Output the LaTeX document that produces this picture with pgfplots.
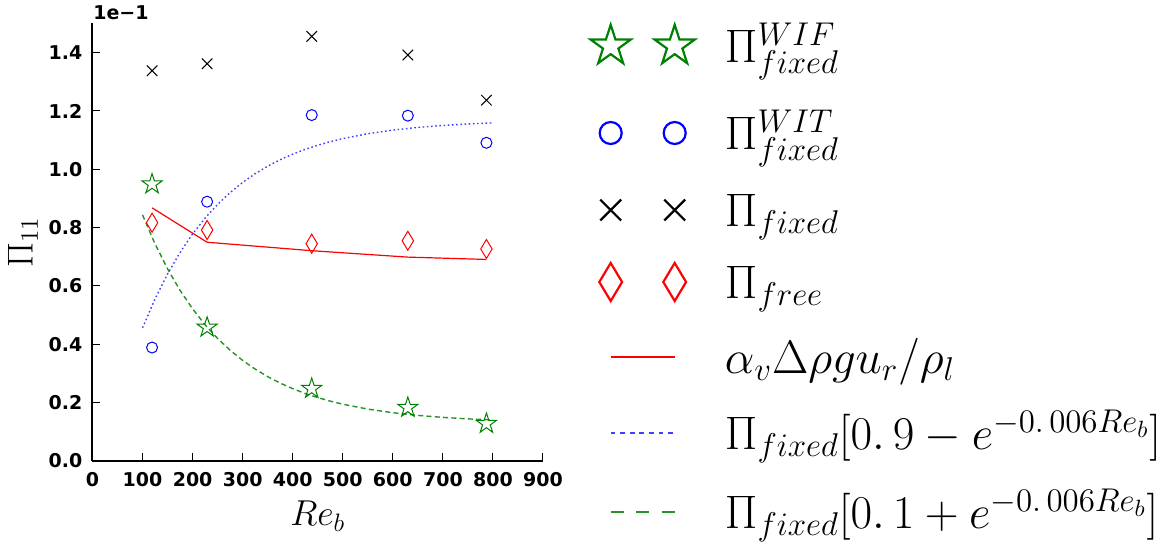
\RequirePackage{fix-cm}
\documentclass[border=0pt]{standalone}
\usepackage{fontspec}
\usepackage{pgfplots}
\pgfplotsset{compat=1.18}
\newfontfamily\dejavu{DejaVu Sans}

\definecolor{mgreen}{rgb}{0,0.5,0}
\definecolor{mblue}{rgb}{0,0,1}
\definecolor{mred}{rgb}{1,0,0}

\pgfdeclareplotmark{ostar}{%
  \pgfpathmoveto{\pgfpointpolar{90}{\pgfplotmarksize}}%
  \pgfpathlineto{\pgfpointpolar{126}{0.382\pgfplotmarksize}}%
  \pgfpathlineto{\pgfpointpolar{162}{\pgfplotmarksize}}%
  \pgfpathlineto{\pgfpointpolar{198}{0.382\pgfplotmarksize}}%
  \pgfpathlineto{\pgfpointpolar{234}{\pgfplotmarksize}}%
  \pgfpathlineto{\pgfpointpolar{270}{0.382\pgfplotmarksize}}%
  \pgfpathlineto{\pgfpointpolar{306}{\pgfplotmarksize}}%
  \pgfpathlineto{\pgfpointpolar{342}{0.382\pgfplotmarksize}}%
  \pgfpathlineto{\pgfpointpolar{18}{\pgfplotmarksize}}%
  \pgfpathlineto{\pgfpointpolar{54}{0.382\pgfplotmarksize}}%
  \pgfpathclose
  \pgfusepathqstroke
}
\pgfdeclareplotmark{tdiamond}{%
  \pgfpathmoveto{\pgfqpoint{0pt}{\pgfplotmarksize}}%
  \pgfpathlineto{\pgfqpoint{0.6\pgfplotmarksize}{0pt}}%
  \pgfpathlineto{\pgfqpoint{0pt}{-\pgfplotmarksize}}%
  \pgfpathlineto{\pgfqpoint{-0.6\pgfplotmarksize}{0pt}}%
  \pgfpathclose
  \pgfusepathqstroke
}

\pgfplotsset{
  myleg/.style={legend image code/.code={%
    \path[draw=none, fill=none] (-12pt,-2pt) rectangle (44pt,2pt);
    \draw[##1, line width=1.1pt, every mark/.append style={scale=2}, #1]
      plot coordinates {(0pt,0pt) (32pt,0pt)};}},
}

\newcommand{\tickfont}{\dejavu\bfseries\fontsize{9.5}{11}\selectfont}

\begin{document}
\begin{tikzpicture}
\useasboundingbox (0,0) rectangle (581.5pt,272pt);
\begin{axis}[
  at={(46.25pt,41.5pt)}, anchor=south west,
  scale only axis, width=225.25pt, height=218.75pt,
  xmin=0, xmax=900, ymin=0, ymax=1.5,
  clip=false,
  axis x line*=bottom, axis y line*=left,
  axis line style={line width=1pt, -},
  xtick={0,100,...,900},
  ytick={0,0.2,0.4,0.6,0.8,1.0,1.2,1.4},
  scaled y ticks=false,
  tick align=inside, major tick length=4pt,
  tick style={black, line width=0.5pt},
  /pgf/number format/assume math mode=true,
  xticklabel style={font=\tickfont, yshift=-2.3pt},
  yticklabel style={font=\tickfont, xshift=-1.6pt,
    /pgf/number format/.cd, fixed, fixed zerofill, precision=1},
  xlabel={$Re_b$},
  xlabel style={font=\fontsize{18}{20}\selectfont, at={(axis description cs:0.5,-0.1260)}, anchor=center},
  ylabel={$\Pi_{11}$},
  ylabel style={font=\fontsize{18}{20}\selectfont, at={(axis description cs:-0.1543,0.5)}, anchor=center},
  legend cell align=left,
  legend style={at={(1.0970,1.0491)}, anchor=north west, draw=none, fill=none,
    inner sep=0pt, outer sep=0pt, row sep=0pt, column sep=13.15pt,
    font=\fontsize{23.5}{27}\selectfont,
    nodes={inner sep=0pt, outer sep=0pt}},
]
% Pi^WIF_fixed (stars)
\addplot[only marks, mgreen, line width=0.5pt, mark=ostar, mark size=5.3pt, myleg={}]
  coordinates {(119,0.949) (229,0.458) (438,0.248) (630,0.183) (787,0.128)};
\addlegendentry[text height=30.03pt, text depth=13.97pt]{$\Pi^{WIF}_{fixed}$}
% Pi^WIT_fixed (circles)
\addplot[only marks, mblue, line width=0.5pt, mark=o, mark size=2.75pt, myleg={}]
  coordinates {(119,0.389) (229,0.889) (438,1.186) (630,1.184) (787,1.091)};
\addlegendentry[text height=29.53pt, text depth=13.47pt]{$\Pi^{WIT}_{fixed}$}
% Pi_fixed (crosses)
\addplot[only marks, black, line width=0.5pt, mark=x, mark size=3.7pt, myleg={}]
  coordinates {(119,1.338) (229,1.362) (438,1.456) (630,1.392) (787,1.237)};
\addlegendentry[text height=25.03pt, text depth=8.97pt]{$\Pi_{fixed}$}
% Pi_free (diamonds)
\addplot[only marks, mred, line width=0.5pt, mark=tdiamond, mark size=4.75pt, myleg={}]
  coordinates {(119,0.817) (229,0.792) (438,0.745) (630,0.755) (787,0.727)};
\addlegendentry[text height=27.03pt, text depth=10.97pt]{$\Pi_{free}$}
% model line
\addplot[mred, line width=0.6pt, myleg={line width=1pt}]
  coordinates {(119,0.868) (229,0.750) (438,0.721) (630,0.699) (787,0.691)};
\addlegendentry[text height=26.53pt, text depth=10.47pt]{$\alpha_v\Delta\rho g u_r/\rho_l$}
% blue dotted
\addplot[mblue!75, line width=0.7pt, dash pattern=on 0.8pt off 1.3pt,
  myleg={line width=1pt, dash pattern=on 2.4pt off 2.4pt}]
  coordinates {(100,0.4565) (125,0.5559) (150,0.6415) (175,0.7151) (200,0.7785)
  (225,0.8330) (250,0.8799) (275,0.9203) (300,0.9551) (325,0.9850) (350,1.0108)
  (375,1.0330) (400,1.0521) (425,1.0685) (450,1.0826) (475,1.0948) (500,1.1053)
  (550,1.1221) (600,1.1345) (650,1.1437) (700,1.1505) (750,1.1556) (800,1.1593)};
\addlegendentry[text height=27.53pt, text depth=11.47pt]{$\Pi_{fixed}[0.\,9-e^{-0.\,006Re_b}]$}
% green dashed
\addplot[mgreen!85, line width=0.7pt, dash pattern=on 2.5pt off 1.65pt,
  myleg={line width=1pt, dash pattern=on 6.5pt off 6.25pt}]
  coordinates {(100,0.8435) (125,0.7441) (150,0.6585) (175,0.5849) (200,0.5216)
  (225,0.4670) (250,0.4201) (275,0.3797) (300,0.3449) (325,0.3150) (350,0.2892)
  (375,0.2670) (400,0.2479) (425,0.2315) (450,0.2174) (475,0.2052) (500,0.1947)
  (550,0.1779) (600,0.1655) (650,0.1563) (700,0.1495) (750,0.1444) (800,0.1407)};
\addlegendentry[text height=28.03pt, text depth=11.97pt]{$\Pi_{fixed}[0.\,1+e^{-0.\,006Re_b}]$}
\node[anchor=west, font=\tickfont, inner sep=0pt] at (rel axis cs:0.001,1.024) {1e−1};
\end{axis}
\end{tikzpicture}
\end{document}
